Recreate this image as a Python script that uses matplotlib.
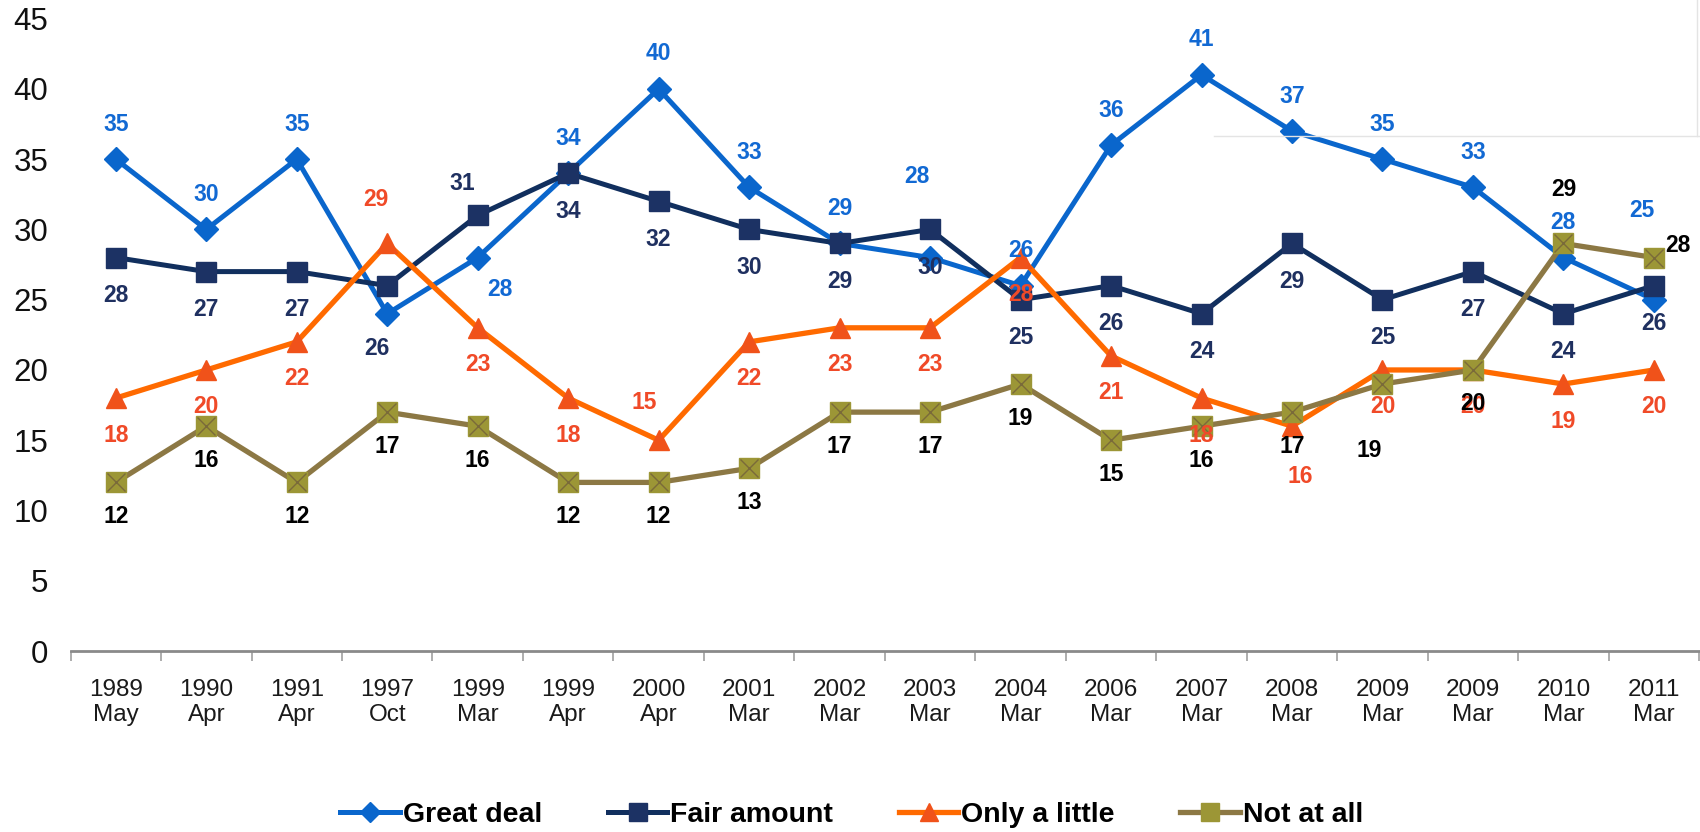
import matplotlib
matplotlib.use("Agg")
import matplotlib.pyplot as plt
from matplotlib.lines import Line2D
import numpy as np

# survey waves
years = ["1989", "1990", "1991", "1997", "1999", "1999", "2000", "2001", "2002",
         "2003", "2004", "2006", "2007", "2008", "2009", "2009", "2010", "2011"]
months = ["May", "Apr", "Apr", "Oct", "Mar", "Apr", "Apr", "Mar", "Mar",
          "Mar", "Mar", "Mar", "Mar", "Mar", "Mar", "Mar", "Mar", "Mar"]

great_deal = [35, 30, 35, 24, 28, 34, 40, 33, 29, 28, 26, 36, 41, 37, 35, 33, 28, 25]
fair_amount = [28, 27, 27, 26, 31, 34, 32, 30, 29, 30, 25, 26, 24, 29, 25, 27, 24, 26]
only_little = [18, 20, 22, 29, 23, 18, 15, 22, 23, 23, 28, 21, 18, 16, 20, 20, 19, 20]
not_at_all = [12, 16, 12, 17, 16, 12, 12, 13, 17, 17, 19, 15, 16, 17, 19, 20, 29, 28]

DPI = 100
fig = plt.figure(figsize=(17, 8.32), dpi=DPI)
ax = fig.add_axes([0.0415, 0.2175, 0.958, 0.7601])

x = np.arange(len(years))

c_gd, c_fa, c_ol, c_na = "#0A66CC", "#112F5E", "#FF6A00", "#8C7844"
ol_marker = "#F0521A"
na_face = "#9C9636"

ax.plot(x, great_deal, color=c_gd, lw=3.6, marker="D", ms=12.5,
        mfc=c_gd, mec=c_gd, zorder=3)
ax.plot(x, fair_amount, color=c_fa, lw=3.6, marker="s", ms=15,
        mfc="#1C3264", mec="#1C3264", zorder=4)
ax.plot(x, only_little, color=c_ol, lw=3.8, marker="^", ms=15,
        mfc=ol_marker, mec=ol_marker, zorder=5)
ax.plot(x, not_at_all, color=c_na, lw=3.8, marker="s", ms=15,
        mfc=na_face, mec=na_face, zorder=6)
ax.plot(x, not_at_all, ls="none", marker="x", ms=13.5, mew=1.0,
        color="#7A6A3A", zorder=7)

# label offsets in pixels (screen, y down); defaults plus exceptions
def offsets(n, default, special):
    out = [default] * n
    for k, v in special.items():
        out[k] = v
    return out

n = len(years)
gd_off = offsets(n, (0, -35), {3: None, 4: (22, 32), 9: (-13, -81), 17: (-12, -89)})
fa_off = offsets(n, (0, 38), {3: (-10, 63), 4: (-15, -32)})
ol_off = offsets(n, (0, 37), {3: (-11, -44), 6: (-14, -38), 13: (8, 50)})
na_off = offsets(n, (0, 34), {14: (-13, 66), 16: (0, -54), 17: (24, -12)})

series = [(great_deal, gd_off, "#1269D3"),
          (fair_amount, fa_off, "#1F3060"),
          (only_little, ol_off, "#F04A28"),
          (not_at_all, na_off, "#000000")]

for vals, offs, col in series:
    for xi, v, o in zip(x, vals, offs):
        if o is None:
            continue
        ax.annotate(str(v), (xi, v), xytext=(o[0] * 72 / DPI, -o[1] * 72 / DPI),
                    textcoords="offset points", ha="center", va="center",
                    fontsize=16.5, fontweight="bold", color=col,
                    family="Liberation Sans", zorder=10)

ax.set_xlim(-0.5, len(years) - 0.5)
ax.set_ylim(0, 45)
ax.set_yticks(range(0, 46, 5))
ax.set_yticklabels([str(v) for v in range(0, 46, 5)], fontsize=22.5,
                   family="Liberation Sans", color="#111111")
ax.tick_params(axis="y", length=0, pad=16)

ax.set_xticks(x)
ax.set_xticklabels([f"{y}\n{m}" for y, m in zip(years, months)], fontsize=17.5,
                   family="Liberation Sans", color="#1A1A1A", linespacing=1.2)
ax.set_xticks(np.arange(-0.5, len(years), 1.0), minor=True)
ax.tick_params(axis="x", which="major", length=0, pad=20)
ax.tick_params(axis="x", which="minor", length=7, width=1.2, color="#A0A0A0",
               direction="out")

for s in ["top", "right", "left"]:
    ax.spines[s].set_visible(False)
ax.spines["bottom"].set_color("#8A8A8A")
ax.spines["bottom"].set_linewidth(2)

handles = [
    Line2D([], [], color=c_gd, lw=3.6, marker="D", ms=10.5, mfc=c_gd, mec=c_gd),
    Line2D([], [], color=c_fa, lw=3.6, marker="s", ms=13, mfc="#1C3264", mec="#1C3264"),
    Line2D([], [], color=c_ol, lw=3.8, marker="^", ms=13, mfc=ol_marker, mec=ol_marker),
    Line2D([], [], color=c_na, lw=3.8, marker="s", ms=13, mfc=na_face, mec=na_face),
]
labels = ["Great deal", "Fair amount", "Only a little", "Not at all"]
leg = fig.legend(handles, labels, loc="center", bbox_to_anchor=(0.501, 0.0204),
                 ncol=4, frameon=False, handlelength=2.1, handletextpad=0.1,
                 columnspacing=2.3,
                 prop={"family": "Liberation Sans", "weight": "bold", "size": 20.5})

# faint frame remnant at the top right
fig.add_artist(Line2D([1214 / 1700, 1], [1 - 135.5 / 832] * 2, color="#E4E4E4", lw=1))
fig.add_artist(Line2D([1697 / 1700] * 2, [1 - 135.5 / 832, 1], color="#E4E4E4", lw=1))

fig.savefig("out.png", dpi=DPI)
